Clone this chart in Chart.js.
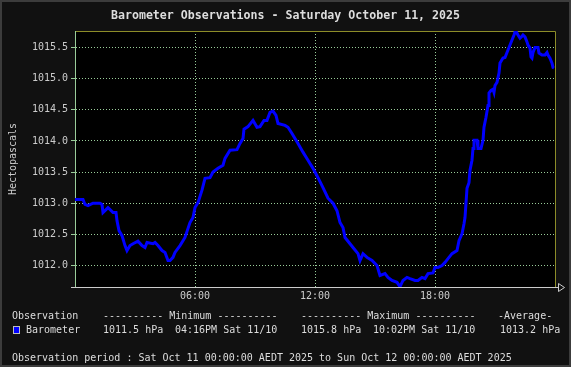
<!DOCTYPE html>
<html>
<head>
<meta charset="utf-8">
<title>Barometer Observations</title>
<script src="https://cdn.jsdelivr.net/npm/chart.js@4.4.1/dist/chart.umd.min.js"></script>
<style>
  html, body { margin: 0; padding: 0; background: #111; }
  #wrap { position: relative; width: 571px; height: 367px; overflow: hidden; }
  #chart { position: absolute; left: 0; top: 0; }
  .txt { position: absolute; font-family: "DejaVu Sans Mono", monospace; font-size: 10px; line-height: 12px; color: #ddd; white-space: pre; }
  .title { left: 0; width: 571px; top: 8px; text-align: center; font-size: 11.6px; font-weight: bold; line-height: 14px; }
  .swatch { position: absolute; left: 13px; top: 326px; width: 5px; height: 6px; background: #0000ff; border: 1px solid #bbb; }
</style>
</head>
<body>
<div id="wrap">
  <canvas id="chart" width="571" height="367"></canvas>
  <div class="txt title">Barometer Observations - Saturday October 11, 2025</div>
  <div class="txt" style="left:12px; top:310px">Observation</div>
  <div class="txt" style="left:103px; top:310px">---------- Minimum ----------</div>
  <div class="txt" style="left:301px; top:310px">---------- Maximum ----------</div>
  <div class="txt" style="left:498px; top:310px">-Average-</div>
  <div class="swatch"></div>
  <div class="txt" style="left:26px; top:324px">Barometer</div>
  <div class="txt" style="left:103px; top:324px">1011.5 hPa</div>
  <div class="txt" style="left:175px; top:324px">04:16PM Sat 11/10</div>
  <div class="txt" style="left:301px; top:324px">1015.8 hPa</div>
  <div class="txt" style="left:373px; top:324px">10:02PM Sat 11/10</div>
  <div class="txt" style="left:500px; top:324px">1013.2 hPa</div>
  <div class="txt" style="left:12px; top:352px">Observation period : Sat Oct 11 00:00:00 AEDT 2025 to Sun Oct 12 00:00:00 AEDT 2025</div>
</div>
<script>
// hours since midnight
const hours = [
  0.00, 0.40, 0.50, 0.65, 0.90, 1.25, 1.35, 1.40, 1.65, 1.75, 1.90, 2.05, 2.10, 2.20, 2.35, 2.50,
  2.60, 2.75, 2.90, 3.15, 3.35, 3.50, 3.60, 3.90, 4.00, 4.15, 4.35, 4.50, 4.65, 4.75, 4.90, 5.00,
  5.25, 5.50, 5.75, 5.90, 6.00, 6.15, 6.35, 6.50, 6.75, 6.90, 7.15, 7.40, 7.50, 7.75, 8.10, 8.25,
  8.40, 8.45, 8.65, 8.90, 9.10, 9.25, 9.45, 9.60, 9.75, 9.90, 10.05, 10.15, 10.50, 10.65, 10.85, 11.00,
  11.15, 11.40, 11.65, 11.90, 12.15, 12.40, 12.65, 12.90, 13.10, 13.25, 13.40, 13.50, 13.75, 13.90, 14.15, 14.25,
  14.40, 14.60, 14.85, 15.10, 15.25, 15.50, 15.65, 15.85, 16.10, 16.25, 16.40, 16.60, 16.75, 17.00, 17.15, 17.35,
  17.50, 17.65, 17.90, 18.00, 18.15, 18.35, 18.50, 18.65, 18.85, 19.10, 19.20, 19.35, 19.45, 19.50, 19.55, 19.60,
  19.70, 19.75, 19.85, 19.90, 19.95, 20.10, 20.15, 20.30, 20.40, 20.45, 20.55, 20.65, 20.70, 20.80, 20.90, 20.95,
  21.00, 21.10, 21.20, 21.25, 21.40, 21.50, 21.65, 21.75, 21.85, 21.95, 22.00, 22.05, 22.15, 22.25, 22.35, 22.40,
  22.50, 22.60, 22.65, 22.75, 22.80, 22.85, 22.90, 23.00, 23.15, 23.20, 23.35, 23.50, 23.60, 23.65, 23.75, 23.85,
  23.90, 23.95
];

// barometer readings in hPa
const pressure = [
  1013.06, 1013.06, 1012.98, 1012.96, 1013.00, 1013.00, 1012.98, 1012.85, 1012.93, 1012.90, 1012.85, 1012.85, 1012.72, 1012.56, 1012.48, 1012.32,
  1012.24, 1012.32, 1012.35, 1012.39, 1012.32, 1012.29, 1012.37, 1012.35, 1012.37, 1012.32, 1012.24, 1012.21, 1012.08, 1012.08, 1012.13, 1012.21,
  1012.32, 1012.45, 1012.69, 1012.77, 1012.93, 1013.01, 1013.21, 1013.40, 1013.41, 1013.50, 1013.56, 1013.61, 1013.72, 1013.85, 1013.86, 1013.96,
  1014.04, 1014.19, 1014.23, 1014.33, 1014.22, 1014.23, 1014.33, 1014.33, 1014.46, 1014.48, 1014.41, 1014.28, 1014.25, 1014.22, 1014.12, 1014.04,
  1013.96, 1013.82, 1013.69, 1013.56, 1013.41, 1013.25, 1013.08, 1013.00, 1012.88, 1012.69, 1012.61, 1012.45, 1012.35, 1012.29, 1012.19, 1012.08,
  1012.19, 1012.13, 1012.08, 1012.00, 1011.84, 1011.87, 1011.81, 1011.76, 1011.73, 1011.66, 1011.76, 1011.81, 1011.79, 1011.76, 1011.76, 1011.81,
  1011.79, 1011.87, 1011.88, 1011.97, 1011.97, 1012.00, 1012.05, 1012.11, 1012.19, 1012.24, 1012.40, 1012.51, 1012.67, 1012.77, 1013.00, 1013.24,
  1013.33, 1013.53, 1013.69, 1013.88, 1014.01, 1014.01, 1013.88, 1013.88, 1014.01, 1014.22, 1014.38, 1014.57, 1014.77, 1014.81, 1014.83, 1014.78,
  1014.89, 1014.94, 1015.09, 1015.25, 1015.33, 1015.34, 1015.46, 1015.54, 1015.62, 1015.70, 1015.75, 1015.76, 1015.70, 1015.65, 1015.68, 1015.70,
  1015.67, 1015.59, 1015.54, 1015.49, 1015.35, 1015.33, 1015.42, 1015.50, 1015.50, 1015.41, 1015.38, 1015.38, 1015.42, 1015.38, 1015.33, 1015.25,
  1015.18, 1015.17
];

// axis ticks
const xTickHours = [0, 6, 12, 18];
const xTickLabels = ['', '06:00', '12:00', '18:00'];
const yTickValues = [1012.0, 1012.5, 1013.0, 1013.5, 1014.0, 1014.5, 1015.0, 1015.5];
const yTickLabels = ['1012.0', '1012.5', '1013.0', '1013.5', '1014.0', '1014.5', '1015.0', '1015.5'];

const gridGreen = '#99cc99';
const monoFont = { family: 'DejaVu Sans Mono', size: 10 };

// background, frame, olive plot border and the x-axis with its arrow
const framePlugin = {
  id: 'frame',
  beforeDraw(chart) {
    const { ctx, chartArea: a, width, height } = chart;
    ctx.save();
    ctx.fillStyle = '#111';
    ctx.fillRect(0, 0, width, height);
    ctx.strokeStyle = '#3c3c3c';
    ctx.lineWidth = 2;
    ctx.strokeRect(1, 1, width - 2, height - 2);
    ctx.fillStyle = '#000';
    ctx.fillRect(a.left, a.top, a.right - a.left, a.bottom - a.top);
    ctx.restore();
  },
  beforeDatasetsDraw(chart) {
    const { ctx, chartArea: a } = chart;
    ctx.save();
    ctx.lineWidth = 1;
    ctx.strokeStyle = '#8c8c28';
    ctx.beginPath();
    ctx.moveTo(a.left + 1, a.top + 0.5);
    ctx.lineTo(a.right + 0.5, a.top + 0.5);
    ctx.lineTo(a.right + 0.5, a.bottom);
    ctx.stroke();
    ctx.strokeStyle = '#cccccc';
    ctx.beginPath();
    ctx.moveTo(a.left - 4, a.bottom + 0.5);
    ctx.lineTo(a.right + 3, a.bottom + 0.5);
    ctx.stroke();
    ctx.fillStyle = '#111';
    ctx.beginPath();
    ctx.moveTo(a.right + 3.5, a.bottom - 3.5);
    ctx.lineTo(a.right + 9.5, a.bottom + 0.5);
    ctx.lineTo(a.right + 3.5, a.bottom + 4.5);
    ctx.closePath();
    ctx.fill();
    ctx.stroke();
    ctx.restore();
  }
};

const ctx = document.getElementById('chart').getContext('2d');
new Chart(ctx, {
  type: 'line',
  data: {
    datasets: [{
      label: 'Barometer',
      data: hours.map((h, i) => ({ x: h, y: pressure[i] })),
      borderColor: '#0000ff',
      borderWidth: 3,
      pointRadius: 0,
      tension: 0,
      fill: false
    }]
  },
  options: {
    responsive: false,
    animation: false,
    devicePixelRatio: 1,
    layout: { padding: { left: 0, right: 16, top: 31, bottom: 60 } },
    plugins: {
      legend: { display: false },
      tooltip: { enabled: false },
      title: { display: false }
    },
    scales: {
      x: {
        type: 'linear',
        min: 0,
        max: 24,
        afterBuildTicks: axis => { axis.ticks = xTickHours.map(v => ({ value: v })); },
        afterFit: scale => { scale.height = 20; },
        ticks: {
          autoSkip: false,
          maxRotation: 0,
          padding: 3,
          color: '#cccccc',
          font: monoFont,
          callback: (value, index) => xTickLabels[index]
        },
        grid: { color: gridGreen, lineWidth: 1, drawTicks: false },
        border: { display: false, dash: [1, 2] }
      },
      y: {
        min: 1011.655,
        max: 1015.765,
        afterBuildTicks: axis => { axis.ticks = yTickValues.map(v => ({ value: v })); },
        afterFit: scale => { scale.width = 75; },
        ticks: {
          padding: 3,
          color: '#cccccc',
          font: monoFont,
          callback: (value, index) => yTickLabels[index]
        },
        grid: { color: gridGreen, lineWidth: 1, tickLength: 4, tickColor: gridGreen },
        border: { display: true, color: gridGreen, width: 1, dash: [1, 2] },
        title: {
          display: true,
          text: 'Hectopascals',
          color: '#cccccc',
          font: monoFont,
          padding: { top: 7, bottom: 0 }
        }
      }
    }
  },
  plugins: [framePlugin]
});
</script>
</body>
</html>
